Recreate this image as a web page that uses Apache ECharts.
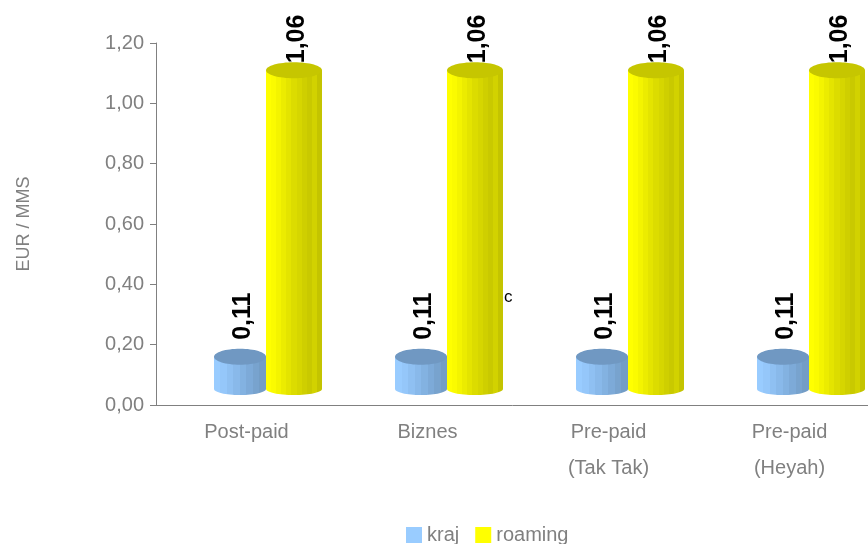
<!DOCTYPE html>
<html>
<head>
<meta charset="utf-8">
<script src="https://cdn.jsdelivr.net/npm/echarts@6/dist/echarts.min.js"></script>
<style>
  html, body { margin: 0; padding: 0; background: #fff; }
  #chart { width: 868px; height: 544px; }
</style>
</head>
<body>
<div id="chart"></div>
<script>
// data
const categories = ['Post-paid', 'Biznes', 'Pre-paid\n(Tak Tak)', 'Pre-paid\n(Heyah)']
const kraj = [0.11, 0.11, 0.11, 0.11]
const roaming = [1.06, 1.06, 1.06, 1.06]
const yTicks = [0, 0.2, 0.4, 0.6, 0.8, 1.0, 1.2]

const grey = '#808080'
const font = 'Liberation Sans, Arial, sans-serif'

// vertical stripes to fake the 3D cylinder shading
function stripes(colors) {
  const stops = []
  colors.forEach((c, i) => {
    stops.push({ offset: i / colors.length, color: c })
    stops.push({ offset: (i + 1) / colors.length, color: c })
  })
  return new echarts.graphic.LinearGradient(0, 0, 1, 0, stops)
}

const looks = {
  kraj: {
    dx: -6.5, width: 52, labelGap: 17, top: '#7098c2',
    body: stripes(['#99ccff', '#95c7fa', '#8fc0f2', '#89b9ea', '#83b2e1', '#7daad8', '#78a3ce', '#739dc6'])
  },
  roaming: {
    dx: 47.5, width: 56, labelGap: 7, top: '#c6c600',
    body: stripes(['#ffff00', '#fbfb00', '#f4f400', '#ecec00', '#e4e400', '#dcdc00', '#d6d600', '#cfcf00', '#c9c900', '#d2d200', '#c4c400'])
  }
}

function cylinder(name) {
  const look = looks[name]
  return function (params, api) {
    const idx = api.value(0)
    const v = api.value(1)
    const top = api.coord([idx, v])
    const base = api.coord([idx, 0])
    const cx = top[0] + look.dx
    const rx = look.width / 2
    const yTop = top[1] - 15
    const yBot = base[1] - 16
    const txt = v.toFixed(2).replace('.', ',')
    return {
      type: 'group',
      children: [
        { type: 'ellipse', shape: { cx: cx, cy: yBot, rx: rx, ry: 6 }, style: { fill: look.body } },
        { type: 'rect', shape: { x: cx - rx, y: yTop, width: look.width, height: yBot - yTop }, style: { fill: look.body } },
        { type: 'ellipse', shape: { cx: cx, cy: yTop, rx: rx, ry: 8 }, style: { fill: look.top } },
        {
          type: 'text',
          x: cx + 3, y: yTop - look.labelGap,
          rotation: Math.PI / 2,
          style: { text: txt, font: 'bold 25px ' + font, fill: '#000', align: 'left', verticalAlign: 'middle' }
        }
      ]
    }
  }
}

const chart = echarts.init(document.getElementById('chart'))
chart.setOption({
  animation: false,
  grid: { left: 156, width: 724, top: 43, bottom: 139, outerBoundsMode: 'none', containLabel: false },
  xAxis: {
    type: 'category',
    data: categories,
    axisLine: { lineStyle: { color: grey } },
    axisTick: { length: 6, lineStyle: { color: grey } },
    axisLabel: { color: grey, fontSize: 20, fontFamily: font, margin: 9, lineHeight: 36 }
  },
  yAxis: {
    type: 'value',
    min: yTicks[0],
    max: yTicks[yTicks.length - 1],
    interval: 0.2,
    name: 'EUR / MMS',
    nameLocation: 'middle',
    nameRotate: 90,
    nameGap: 123,
    nameTextStyle: { color: grey, fontSize: 18, fontFamily: font },
    splitLine: { show: false },
    axisLine: { show: true, lineStyle: { color: grey } },
    axisTick: { show: true, length: 6, lineStyle: { color: grey } },
    axisLabel: {
      color: grey, fontSize: 20, fontFamily: font, margin: 12,
      formatter: v => v.toFixed(2).replace('.', ',')
    }
  },
  legend: {
    left: 401,
    top: 520,
    itemWidth: 16,
    itemHeight: 16,
    itemGap: 16,
    icon: 'rect',
    textStyle: { color: grey, fontSize: 20, fontFamily: font, padding: [0, 0, 0, 0] },
    data: ['kraj', 'roaming']
  },
  graphic: [
    { type: 'text', left: 504, top: 289, style: { text: 'c', font: '17px ' + font, fill: '#000' } }
  ],
  series: [
    {
      name: 'kraj', type: 'custom', itemStyle: { color: '#99ccff' },
      renderItem: cylinder('kraj'),
      encode: { x: 0, y: 1 },
      data: kraj.map((v, i) => [i, v])
    },
    {
      name: 'roaming', type: 'custom', itemStyle: { color: '#ffff00' },
      renderItem: cylinder('roaming'),
      encode: { x: 0, y: 1 },
      data: roaming.map((v, i) => [i, v])
    }
  ]
})
</script>
</body>
</html>
